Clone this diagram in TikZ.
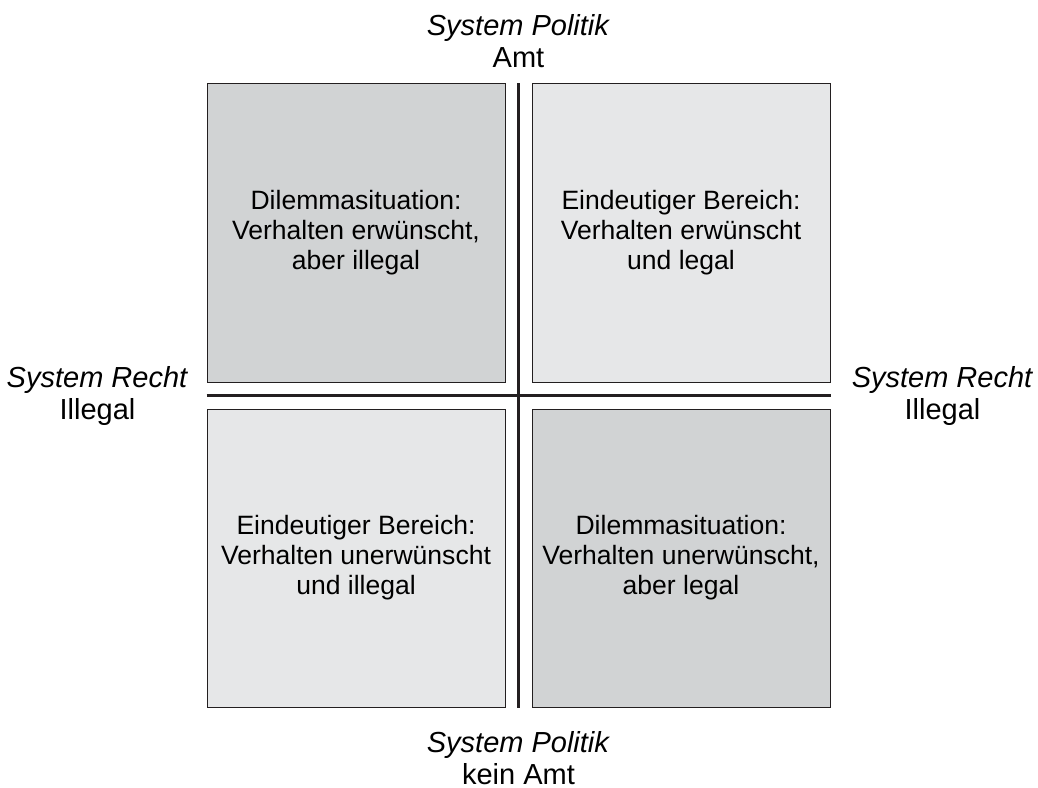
\documentclass[tikz,border=0pt]{standalone}
\usepackage{fontspec}
\setmainfont{Liberation Sans}
\usetikzlibrary{positioning,calc}
\definecolor{feldDunkel}{HTML}{D1D3D4}
\definecolor{feldHell}{HTML}{E6E7E8}
\definecolor{rand}{HTML}{231F20}

\begin{document}
\begin{tikzpicture}[x=0.75pt,y=-0.75pt,node distance=19.5pt,
  feld/.style={draw=rand,line width=0.75pt,minimum width=223.5pt,minimum height=223.5pt,
    align=center,inner sep=0pt,font=\fontsize{19.9}{22.5}\selectfont},
  achse/.style={draw=rand,line width=2.25pt},
  randtext/.style={align=center,inner sep=0pt,font=\fontsize{21.75}{24}\selectfont}]
  \useasboundingbox (0,0) rectangle (1038,788);
  % vier Felder
  \node[feld,fill=feldDunkel] (dil1) at (356,233) {Dilemmasituation:\\Verhalten erwünscht,\\aber illegal};
  \node[feld,fill=feldHell,right=of dil1] (ein1) {Eindeutiger Bereich:\\Verhalten erwünscht\\und legal};
  \node[feld,fill=feldHell,below=of dil1] (ein2) {Eindeutiger Bereich:\\Verhalten unerwünscht\\und illegal};
  \node[feld,fill=feldDunkel,right=of ein2] (dil2) {Dilemmasituation:\\Verhalten unerwünscht,\\aber legal};
  % Achsenkreuz
  \coordinate (oben) at ($(dil1.north east)!0.5!(ein1.north west)$);
  \coordinate (unten) at ($(ein2.south east)!0.5!(dil2.south west)$);
  \coordinate (links) at ($(dil1.south west)!0.5!(ein2.north west)$);
  \coordinate (rechts) at ($(ein1.south east)!0.5!(dil2.north east)$);
  \draw[achse] (oben) -- (unten);
  \draw[achse] (links) -- (rechts);
  % Beschriftung
  \node[randtext,above=12pt of oben] (amt) {\textit{System Politik}\\Amt};
  \node[randtext,below=18pt of unten] (keinamt) {\textit{System Politik}\\kein Amt};
  \node[randtext,left=13.5pt of links] (illegal1) {\textit{System Recht}\\Illegal};
  \node[randtext,right=15.75pt of rechts] (illegal2) {\textit{System Recht}\\Illegal};
\end{tikzpicture}
\end{document}
